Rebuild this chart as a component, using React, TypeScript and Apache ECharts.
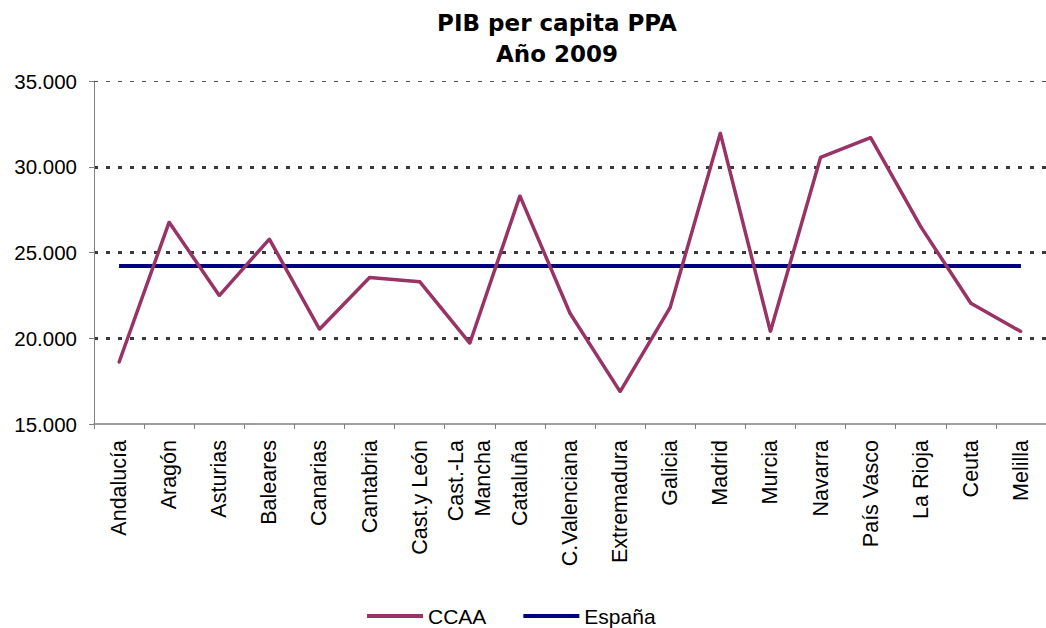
import React, { useEffect, useRef } from "react";
import * as echarts from "echarts";

const categories = [
  "Andalucía", "Aragón", "Asturias", "Baleares", "Canarias", "Cantabria",
  "Cast.y León", "Cast.-La\nMancha", "Cataluña", "C.Valenciana", "Extremadura",
  "Galicia", "Madrid", "Murcia", "Navarra", "País Vasco", "La Rioja", "Ceuta", "Melilla",
];
const ccaaValues = [
  18600, 26770, 22490, 25780, 20530, 23540, 23300, 19710, 28300, 21460, 16890,
  21800, 31960, 20390, 30540, 31700, 26510, 22040, 20390,
];
const espanaValues = [
  24220, 24220, 24220, 24220, 24220, 24220, 24220, 24220, 24220, 24220, 24220,
  24220, 24220, 24220, 24220, 24220, 24220, 24220, 24220,
];
const titleLines = ["PIB per capita PPA", "Año 2009"];
const seriesNames = ["CCAA", "España"];

const fmt = (v: number) => String(Math.round(v)).replace(/\B(?=(\d{3})+(?!\d))/g, ".");

export default function App() {
  const ref = useRef<HTMLDivElement>(null);
  useEffect(() => {
    if (!ref.current) return;
    const chart = echarts.init(ref.current, null, { renderer: "svg" });
    chart.setOption({
      animation: false,
      backgroundColor: "#ffffff",
      graphic: [
        {
          type: "text",
          x: 557,
          y: 23,
          style: {
            text: titleLines[0],
            fontFamily: "DejaVu Sans",
            fontWeight: "bold",
            fontSize: 23,
            fill: "#000",
            align: "center",
            verticalAlign: "middle",
          },
        },
        {
          type: "text",
          x: 557,
          y: 54,
          style: {
            text: titleLines[1],
            fontFamily: "DejaVu Sans",
            fontWeight: "bold",
            fontSize: 23,
            fill: "#000",
            align: "center",
            verticalAlign: "middle",
          },
        },
      ],
      legend: {
        data: [
          { name: seriesNames[0], icon: "rect" },
          { name: seriesNames[1], icon: "rect" },
        ],
        left: 362,
        top: 600,
        padding: 5,
        itemWidth: 56,
        itemHeight: 4,
        itemGap: 37,
        textStyle: { fontFamily: "Liberation Sans", fontSize: 21, lineHeight: 22, color: "#000" },
      },
      grid: { left: 94, top: 81, bottom: 204, right: -12, containLabel: false },
      xAxis: {
        type: "category",
        data: categories,
        boundaryGap: true,
        axisLine: { lineStyle: { color: "#808080", width: 1.5 } },
        axisTick: { show: true, length: 5, inside: false, lineStyle: { color: "#808080" } },
        axisLabel: {
          rotate: 90,
          interval: 0,
          margin: 16,
          fontFamily: "Liberation Sans",
          fontSize: 21.5,
          lineHeight: 27,
          color: "#000",
        },
        splitLine: { show: false },
      },
      yAxis: {
        type: "value",
        min: 15000,
        max: 35000,
        interval: 5000,
        axisLine: { show: true, lineStyle: { color: "#808080", width: 1 } },
        axisTick: { show: true, length: 5, lineStyle: { color: "#808080" } },
        axisLabel: {
          margin: 17,
          fontFamily: "Liberation Sans",
          fontSize: 20.5,
          color: "#000",
          formatter: (v: number) => fmt(v),
        },
        splitLine: {
          show: true,
          showMinLine: false,
          showMaxLine: false,
          lineStyle: { color: "#3a3a3a", width: 3, type: [4, 8] },
        },
      },
      series: [
        {
          name: seriesNames[0],
          type: "line",
          data: ccaaValues,
          color: "#993366",
          lineStyle: { color: "#993366", width: 3.5 },
          itemStyle: { color: "#993366" },
          symbol: "circle",
          symbolSize: 3,
          showSymbol: true,
          z: 3,
          markLine: {
            silent: true,
            symbol: "none",
            label: { show: false },
            lineStyle: { color: "#555", width: 1.2, type: [4, 8] },
            data: [{ yAxis: 35000 }],
          },
        },
        {
          name: seriesNames[1],
          type: "line",
          data: espanaValues,
          color: "#000080",
          lineStyle: { color: "#000080", width: 4 },
          itemStyle: { color: "#000080" },
          symbol: "none",
          showSymbol: false,
          z: 2,
        },
      ],
    });
    return () => chart.dispose();
  }, []);
  return (
    <div
      ref={ref}
      style={{ position: "absolute", left: 0, top: 0, width: 1046, height: 628 }}
    />
  );
}
